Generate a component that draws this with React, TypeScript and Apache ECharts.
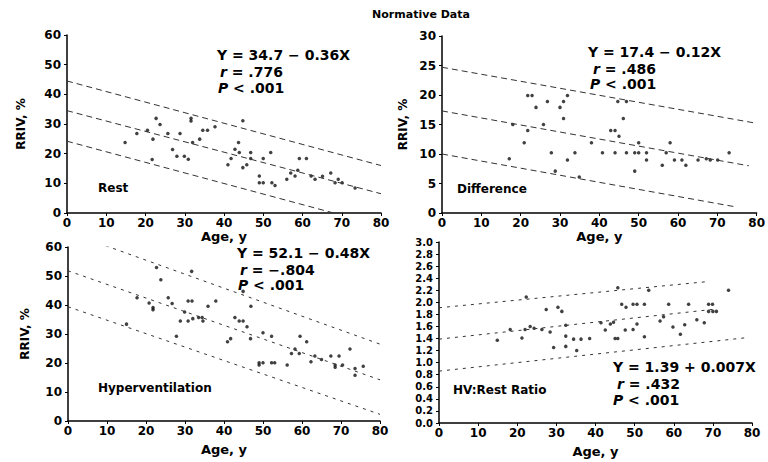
import React, { useEffect, useRef } from "react";
import * as echarts from "echarts";

// ---- Data (age, value) ----
const restPoints: [number, number][] = [
  [14.8, 23.8], [17.8, 26.8], [20.5, 27.9], [21.9, 24.9], [21.7, 18.0], [22.7, 31.9], [23.7, 29.8],
  [25.7, 26.8], [26.9, 21.4], [28.0, 19.1], [28.8, 26.8], [29.9, 19.1], [30.9, 18.1], [31.6, 31.9],
  [31.6, 31.0], [32.0, 23.8], [33.8, 24.9], [34.6, 27.9], [35.8, 27.9], [37.7, 29.1], [41.0, 16.3],
  [41.8, 18.4], [42.8, 21.5], [43.7, 23.8], [43.9, 20.4], [44.8, 31.1], [44.8, 15.3], [45.8, 16.3],
  [46.8, 20.4], [46.8, 18.4], [49.0, 12.5], [49.0, 10.2], [50.0, 10.2], [50.0, 18.4], [51.9, 20.4],
  [52.2, 10.2], [53.0, 9.3], [56.0, 11.4], [57.0, 13.5], [58.1, 12.5], [58.8, 14.4], [59.2, 18.4],
  [61.0, 18.4], [62.2, 12.5], [63.2, 11.4], [65.1, 12.4], [67.2, 13.5], [68.3, 10.2], [69.1, 11.4],
  [70.1, 10.2], [73.4, 8.4],
];
const differencePoints: [number, number][] = [
  [17.1, 9.2], [18.0, 15.0], [20.9, 11.9], [21.8, 19.9], [22.9, 19.9], [21.8, 14.0], [23.9, 17.9],
  [25.8, 15.0], [26.8, 18.9], [27.8, 10.2], [28.8, 7.1], [30.0, 17.9], [30.9, 18.9], [30.9, 16.0],
  [31.9, 19.9], [31.9, 9.0], [33.8, 10.2], [34.9, 6.1], [38.0, 11.9], [40.8, 10.2], [42.9, 14.0],
  [44.0, 14.0], [44.0, 10.2], [45.0, 13.0], [44.7, 18.9], [46.1, 16.0], [46.9, 18.9], [46.9, 10.2],
  [49.0, 10.2], [50.0, 10.2], [49.0, 7.1], [50.0, 11.9], [52.0, 10.2], [52.0, 9.0], [56.0, 8.1],
  [57.0, 10.2], [58.0, 11.9], [59.1, 9.0], [61.0, 9.0], [62.0, 8.1], [65.1, 9.0], [67.2, 9.2],
  [68.2, 9.0], [70.1, 9.0], [73.0, 10.2],
];
const hyperventilationPoints: [number, number][] = [
  [15.0, 33.4], [17.7, 42.5], [20.8, 40.7], [21.8, 39.1], [21.8, 38.4], [22.7, 52.9], [23.8, 48.7],
  [25.7, 42.5], [26.7, 40.5], [27.8, 29.2], [28.8, 34.5], [29.9, 37.6], [30.8, 41.4], [31.8, 41.4],
  [30.8, 34.5], [31.7, 51.6], [32.0, 35.3], [33.5, 35.7], [34.4, 35.7], [34.6, 34.5], [35.9, 39.6],
  [37.9, 41.4], [40.9, 27.3], [41.7, 28.4], [42.8, 35.7], [43.9, 34.5], [44.9, 34.5], [44.9, 44.7],
  [45.9, 32.5], [46.8, 28.4], [46.9, 39.6], [49.0, 20.1], [50.0, 20.1], [49.0, 19.3], [50.0, 30.4],
  [52.2, 29.2], [52.2, 20.1], [53.0, 20.1], [56.2, 19.3], [57.3, 23.3], [58.2, 24.8], [59.5, 29.2],
  [59.3, 23.3], [61.2, 27.3], [62.3, 20.4], [63.3, 22.4], [65.0, 21.2], [67.4, 22.4], [68.5, 19.3],
  [68.5, 18.5], [69.5, 22.4], [70.4, 19.3], [72.3, 24.8], [73.6, 18.1], [73.6, 15.8], [75.7, 18.9],
];
const ratioPoints: [number, number][] = [
  [14.9, 1.37], [18.2, 1.55], [21.2, 1.41], [22.0, 1.55], [22.3, 2.09], [23.3, 1.6], [24.3, 1.57],
  [26.3, 1.55], [27.4, 1.88], [28.4, 1.51], [29.3, 1.25], [30.4, 1.92], [31.4, 1.85], [32.4, 1.62],
  [32.4, 1.44], [32.4, 1.27], [34.4, 1.39], [35.2, 1.2], [36.3, 1.39], [38.5, 1.4], [41.4, 1.66],
  [42.5, 1.54], [43.8, 1.64], [44.6, 1.67], [45.0, 1.4], [45.7, 1.4], [45.7, 2.24], [46.7, 1.97],
  [47.6, 1.54], [47.8, 1.92], [49.6, 1.97], [50.6, 1.97], [49.6, 1.55], [50.6, 1.64], [52.5, 1.97],
  [52.5, 1.43], [53.6, 2.2], [56.5, 1.69], [57.4, 1.76], [58.7, 1.97], [59.8, 1.59], [61.7, 1.47],
  [62.8, 1.63], [63.8, 1.97], [65.9, 1.71], [67.8, 1.66], [68.9, 1.85], [70.0, 1.85], [68.9, 1.97],
  [69.9, 1.97], [70.9, 1.85], [74.0, 2.2],
];

// regression line and band endpoints [[x0,y0],[x1,y1]]
const restLines: [number, number][][] = [
  [[0, 44.5], [80, 16.0]],
  [[0, 34.5], [80, 6.5]],
  [[0, 24.2], [80, -4.3]],
];
const differenceLines: [number, number][][] = [
  [[0, 24.7], [80, 15.2]],
  [[0, 17.3], [78, 8.0]],
  [[0, 10.0], [75, 1.0]],
];
const hyperventilationLines: [number, number][][] = [
  [[0, 65.1], [80, 26.5]],
  [[0, 51.8], [80, 14.2]],
  [[0, 39.4], [80, 2.3]],
];
const ratioLines: [number, number][][] = [
  [[0, 1.91], [68, 2.34]],
  [[0, 1.39], [71, 1.89]],
  [[0, 0.86], [78, 1.41]],
];

const panelLabels = ["Rest", "Difference", "Hyperventilation", "HV:Rest Ratio"];
const equations = ["Y = 34.7 − 0.36X", "Y = 17.4 − 0.12X", "Y = 52.1 − 0.48X", "Y = 1.39 + 0.007X"];
const rValues = [".776", ".486", "−.804", ".432"];
const pValues = ["< .001", "< .001", "< .001", "< .001"];
const yMax = [60, 30, 60, 3];
const yInterval = [10, 5, 10, 0.2];

const FONT = "'DejaVu Sans', 'Liberation Sans', sans-serif";

export default function App() {
  const ref = useRef<HTMLDivElement>(null);
  useEffect(() => {
    if (!ref.current) return;
    const chart = echarts.init(ref.current, undefined, { renderer: "svg" });

    const grids = [
      { left: 67, right: 387, top: 35, bottom: 249 },
      { left: 442, right: 10, top: 36, bottom: 249 },
      { left: 68, right: 388, top: 247, bottom: 41 },
      { left: 439, right: 16, top: 242, bottom: 39 },
    ];
    const xNameGap = [16, 16, 22, 22];
    const yNameGap = [40, 33, 37, 0];

    const axisLine = { show: true, lineStyle: { color: "#000", width: 1.5 } };
    const axisTick = { show: true, length: 3, lineStyle: { color: "#000" } };
    const labelStyle = { color: "#000", fontFamily: FONT, fontWeight: "bold" as const, fontSize: 12 };

    const xAxes = grids.map((_, i) => ({
      type: "value",
      gridIndex: i,
      min: 0,
      max: 80,
      interval: 10,
      axisLine,
      axisTick,
      splitLine: { show: false },
      axisLabel: { ...labelStyle, margin: 4 },
      name: "Age, y",
      nameLocation: "middle",
      nameGap: xNameGap[i],
      nameTextStyle: { color: "#000", fontFamily: FONT, fontWeight: "bold", fontSize: 13 },
    }));
    const yAxes = grids.map((_, i) => ({
      type: "value",
      gridIndex: i,
      min: 0,
      max: yMax[i],
      interval: yInterval[i],
      axisLine,
      axisTick,
      splitLine: { show: false },
      axisLabel:
        i === 3
          ? {
              ...labelStyle,
              fontSize: 10,
              lineHeight: 10,
              margin: 6,
              formatter: (v: number) => v.toFixed(1),
            }
          : { ...labelStyle, margin: 6 },
      name: i === 3 ? "" : "RRIV, %",
      nameLocation: "middle",
      nameGap: yNameGap[i],
      nameTextStyle: { color: "#000", fontFamily: FONT, fontWeight: "bold", fontSize: 12 },
    }));

    const pointSets = [restPoints, differencePoints, hyperventilationPoints, ratioPoints];
    const lineSets = [restLines, differenceLines, hyperventilationLines, ratioLines];
    const series: any[] = [];
    pointSets.forEach((pts, i) => {
      series.push({
        type: "scatter",
        xAxisIndex: i,
        yAxisIndex: i,
        data: pts,
        symbol: "circle",
        symbolSize: 3.5,
        itemStyle: { color: "#111" },
      });
      lineSets[i].forEach((seg) => {
        series.push({
          type: "line",
          xAxisIndex: i,
          yAxisIndex: i,
          data: seg,
          showSymbol: false,
          clip: true,
          lineStyle: {
            color: "#333",
            width: 1,
            type: i >= 2 ? [3, 5] : [6, 4],
          },
        });
      });
    });

    const labelPos = [
      [98, 188],
      [457, 189],
      [98, 388],
      [453, 390],
    ];
    const eqPos = [
      [217, 55, 220, 72, 218, 88],
      [588, 52, 593, 69, 590, 84],
      [237, 253, 240, 270, 238, 285],
      [613, 367, 617, 384, 613, 400],
    ];
    const graphic: any[] = [
      {
        type: "text",
        x: 421,
        y: 14,
        style: {
          text: "Normative Data",
          fill: "#000",
          font: `bold 11px ${FONT}`,
          align: "center",
          verticalAlign: "middle",
        },
      },
    ];
    panelLabels.forEach((lbl, i) => {
      graphic.push({
        type: "text",
        x: labelPos[i][0],
        y: labelPos[i][1],
        style: { text: lbl, fill: "#000", font: `bold 12px ${FONT}`, verticalAlign: "middle" },
      });
      const e = eqPos[i];
      graphic.push({
        type: "text",
        x: e[0],
        y: e[1],
        style: { text: equations[i], fill: "#000", font: `bold 14px ${FONT}`, verticalAlign: "middle" },
      });
      graphic.push({
        type: "text",
        x: e[2],
        y: e[3],
        style: {
          text: `{i|r} = ${rValues[i]}`,
          fill: "#000",
          font: `bold 14px ${FONT}`,
          verticalAlign: "middle",
          rich: { i: { fontStyle: "italic", fontWeight: "bold", fontSize: 14, fontFamily: FONT } },
        },
      });
      graphic.push({
        type: "text",
        x: e[4],
        y: e[5],
        style: {
          text: `{i|P} ${pValues[i]}`,
          fill: "#000",
          font: `bold 14px ${FONT}`,
          verticalAlign: "middle",
          rich: { i: { fontStyle: "italic", fontWeight: "bold", fontSize: 14, fontFamily: FONT } },
        },
      });
    });

    chart.setOption({
      animation: false,
      backgroundColor: "#fff",
      grid: grids,
      xAxis: xAxes,
      yAxis: yAxes,
      series,
      graphic,
    });
    return () => chart.dispose();
  }, []);

  return (
    <div
      ref={ref}
      style={{ position: "fixed", left: 0, top: 0, width: 768, height: 462, background: "#fff" }}
    />
  );
}
